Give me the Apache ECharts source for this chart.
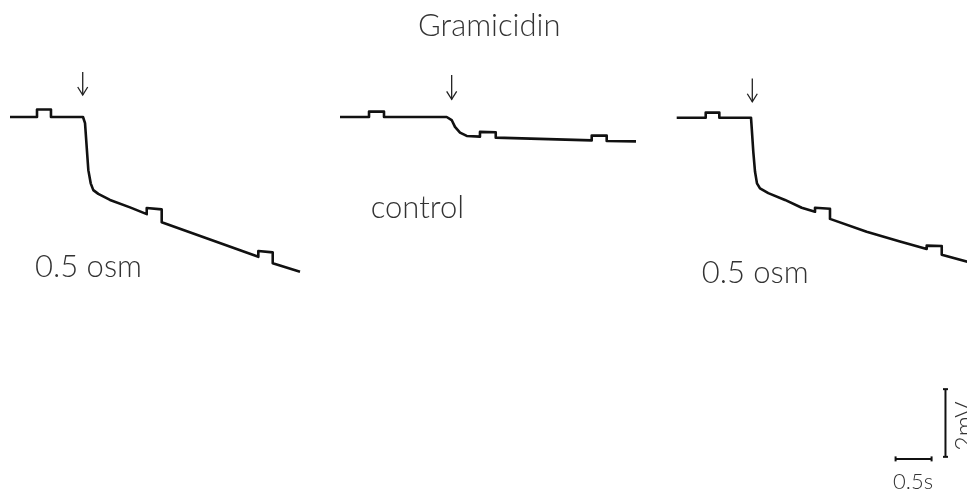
<!DOCTYPE html>
<html>
<head>
<meta charset="utf-8">
<script src="https://cdn.jsdelivr.net/npm/echarts@6/dist/echarts.min.js"></script>
<style>
  html, body { margin: 0; padding: 0; background: #fff; }
  #chart { width: 967px; height: 492px; }
</style>
</head>
<body>
<div id="chart"></div>
<script>
// Membrane potential recordings: time in s, potential in mV relative to the resting level.
// Trace 1: 0.5 osm
const trace1Time = [0, 0.375, 0.375, 0.569, 0.569, 1.014, 1.042, 1.065, 1.088, 1.121, 1.157, 1.226, 1.389, 1.667, 1.899,
  1.899, 2.107, 2.107, 2.778, 3.449, 3.449, 3.649, 3.649, 4.028];
const trace1Volt = [0, 0, 0.22, 0.22, 0, 0, -0.18, -0.88, -1.57, -1.96, -2.16, -2.27, -2.45, -2.67, -2.87,
  -2.69, -2.73, -3.11, -3.62, -4.13, -3.96, -4.00, -4.32, -4.57];

// Trace 2: control
const trace2Time = [0, 0.403, 0.403, 0.611, 0.611, 1.482, 1.551, 1.597, 1.667, 1.760, 1.944, 1.944, 2.163, 2.163,
  3.496, 3.496, 3.704, 3.704, 4.111];
const trace2Volt = [0, 0, 0.16, 0.16, 0, 0, -0.09, -0.29, -0.46, -0.56, -0.58, -0.44, -0.45, -0.61,
  -0.69, -0.55, -0.55, -0.71, -0.72];

// Trace 3: 0.5 osm
const trace3Time = [0, 0.403, 0.403, 0.592, 0.592, 1.032, 1.042, 1.064, 1.088, 1.115, 1.157, 1.272, 1.504, 1.736, 1.921,
  1.921, 2.129, 2.129, 2.638, 3.101, 3.472, 3.472, 3.681, 3.681, 4.074];
const trace3Volt = [-0.02, -0.02, 0.13, 0.13, -0.02, -0.02, -0.33, -1.03, -1.62, -1.96, -2.11, -2.25, -2.45, -2.68, -2.80,
  -2.68, -2.71, -3.01, -3.39, -3.68, -3.90, -3.80, -3.81, -4.07, -4.30];

// Stimulus markers (arrows): time of application, arrow top and tip in mV
const stimulusTime = [1.01, 1.551, 1.05];
const arrowTop = [1.33, 1.24, 1.14];
const arrowTip = [0.65, 0.52, 0.45];

// Panel labels
const panelLabels = ['0.5 osm', 'control', '0.5 osm'];
const titleText = 'Gramicidin';

// Calibration bars
const scaleTime = 0.5;   // s
const scaleVolt = 2;     // mV
const scaleTimeLabel = '0.5s';
const scaleVoltLabel = '2mV';

const PX_PER_S = 72;
const PX_PER_MV = 33.85;
const Y_MIN = -11, Y_MAX = 2;
const BASE_Y = 117;
const CHART_W = 967;
const panelLeft = [10, 340, 676.7];
// the last panel runs off the right edge of the page, so its time axis stops there
const panelXMax = [4.2, 4.2, (CHART_W - 676.7) / PX_PER_S];

const zip = (t, v) => t.map((x, i) => [x, v[i]]);
const traces = [zip(trace1Time, trace1Volt), zip(trace2Time, trace2Volt), zip(trace3Time, trace3Volt)];

const ink = '#111';
const grids = panelLeft.map((l, i) => ({
  left: l,
  top: BASE_Y - Y_MAX * PX_PER_MV,
  width: panelXMax[i] * PX_PER_S,
  height: (Y_MAX - Y_MIN) * PX_PER_MV,
  containLabel: false
}));
const xAxes = panelLeft.map((_, i) => ({ type: 'value', gridIndex: i, min: 0, max: panelXMax[i], show: false }));
const yAxes = panelLeft.map((_, i) => ({ type: 'value', gridIndex: i, min: Y_MIN, max: Y_MAX, show: false }));

function renderArrow(params, api) {
  const a = api.coord([api.value(0), api.value(1)]);
  const b = api.coord([api.value(0), api.value(2)]);
  const hw = 5, hh = 8;
  const st = { stroke: '#222', lineWidth: 1.3, fill: null };
  return {
    type: 'group',
    children: [
      { type: 'line', shape: { x1: a[0], y1: a[1], x2: b[0], y2: b[1] }, style: st },
      { type: 'polyline', shape: { points: [[b[0] - hw, b[1] - hh], [b[0], b[1]], [b[0] + hw, b[1] - hh]] }, style: st }
    ]
  };
}

// Calibration: [timeBarStart, timeBarLevel, voltBarTime, voltBarBottom]
const scaleAnchor = [[3.04, -10.1, 3.733, -10.04]];
function renderScale(params, api) {
  const t0 = api.value(0), lv = api.value(1), tv = api.value(2), v0 = api.value(3);
  const h0 = api.coord([t0, lv]), h1 = api.coord([t0 + scaleTime, lv]);
  const v0p = api.coord([tv, v0]), v1p = api.coord([tv, v0 + scaleVolt]);
  const st = { stroke: '#111', lineWidth: 2 };
  const cap = 2.5;
  return {
    type: 'group',
    children: [
      { type: 'line', shape: { x1: h0[0], y1: h0[1], x2: h1[0], y2: h1[1] }, style: st },
      { type: 'line', shape: { x1: h0[0], y1: h0[1] - cap, x2: h0[0], y2: h0[1] + cap }, style: st },
      { type: 'line', shape: { x1: h1[0], y1: h1[1] - cap, x2: h1[0], y2: h1[1] + cap }, style: st },
      { type: 'line', shape: { x1: v0p[0], y1: v0p[1], x2: v1p[0], y2: v1p[1] }, style: st },
      { type: 'line', shape: { x1: v0p[0] - cap, y1: v0p[1], x2: v0p[0] + cap, y2: v0p[1] }, style: st },
      { type: 'line', shape: { x1: v1p[0] - cap, y1: v1p[1], x2: v1p[0] + cap, y2: v1p[1] }, style: st }
    ]
  };
}

const series = [];
traces.forEach((d, i) => {
  series.push({
    type: 'line', xAxisIndex: i, yAxisIndex: i, data: d,
    showSymbol: false, symbol: 'none', smooth: false,
    lineStyle: { color: ink, width: 2.6, join: 'round' },
    animation: false, silent: true
  });
  series.push({
    type: 'custom', xAxisIndex: i, yAxisIndex: i,
    data: [[stimulusTime[i], arrowTop[i], arrowTip[i]]],
    renderItem: renderArrow, animation: false, silent: true
  });
});
series.push({
  type: 'custom', xAxisIndex: 2, yAxisIndex: 2, data: scaleAnchor,
  renderItem: renderScale, animation: false, silent: true, clip: false
});

const font = 'Lato, "Open Sans", "DejaVu Sans", sans-serif';
const label = (text, x, y, size, extra) => Object.assign({
  type: 'text', x: x, y: y,
  style: { text: text, fill: '#333', font: '300 ' + size + 'px ' + font, textAlign: 'left', textVerticalAlign: 'middle' }
}, extra || {});

const chart = echarts.init(document.getElementById('chart'), null, { renderer: 'canvas' });
chart.setOption({
  backgroundColor: '#fff',
  animation: false,
  grid: grids,
  xAxis: xAxes,
  yAxis: yAxes,
  series: series,
  graphic: [
    label(titleText, 418, 25.5, 31),
    label(panelLabels[0], 35, 267, 31),
    label(panelLabels[1], 370.7, 207.5, 31),
    label(panelLabels[2], 701.7, 272.5, 31),
    { type: 'text', x: 913, y: 482, style: { text: scaleTimeLabel, fill: '#333', font: '300 22px ' + font, textAlign: 'center', textVerticalAlign: 'middle' } },
    { type: 'text', x: 965, y: 426, rotation: Math.PI / 2, style: { text: scaleVoltLabel, fill: '#333', font: '300 25px ' + font, textAlign: 'center', textVerticalAlign: 'middle' } }
  ]
});
</script>
</body>
</html>
